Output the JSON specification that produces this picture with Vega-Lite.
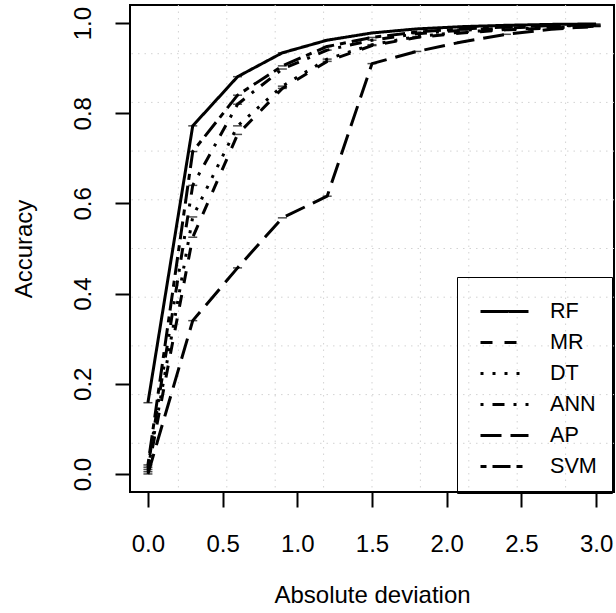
{
  "$schema": "https://vega.github.io/schema/vega-lite/v6.json",
  "width": 484,
  "height": 487,
  "autosize": {"type": "none"},
  "padding": {"left": 130, "top": 5, "right": 2, "bottom": 121},
  "background": "white",
  "config": {
    "view": {"stroke": "black", "strokeWidth": 2},
    "font": "Liberation Sans",
    "axis": {
      "domain": false,
      "grid": false,
      "ticks": true,
      "tickColor": "black",
      "tickWidth": 2,
      "tickSize": 15,
      "labelFont": "Liberation Sans",
      "labelFontSize": 24,
      "labelColor": "black",
      "titleFont": "Liberation Sans",
      "titleFontSize": 24,
      "titleFontWeight": "normal",
      "titleColor": "black"
    }
  },
  "datasets": {
    "acc": [
      {"model": "RF", "d": 0.0, "acc": 0.158}, {"model": "RF", "d": 0.3, "acc": 0.772}, {"model": "RF", "d": 0.6, "acc": 0.881}, {"model": "RF", "d": 0.9, "acc": 0.934}, {"model": "RF", "d": 1.2, "acc": 0.962}, {"model": "RF", "d": 1.5, "acc": 0.978}, {"model": "RF", "d": 1.8, "acc": 0.987}, {"model": "RF", "d": 2.1, "acc": 0.992}, {"model": "RF", "d": 2.4, "acc": 0.995}, {"model": "RF", "d": 2.7, "acc": 0.997}, {"model": "RF", "d": 3.0, "acc": 0.998},
      {"model": "MR", "d": 0.0, "acc": 0.005}, {"model": "MR", "d": 0.3, "acc": 0.525}, {"model": "MR", "d": 0.6, "acc": 0.753}, {"model": "MR", "d": 0.9, "acc": 0.855}, {"model": "MR", "d": 1.2, "acc": 0.915}, {"model": "MR", "d": 1.5, "acc": 0.95}, {"model": "MR", "d": 1.8, "acc": 0.968}, {"model": "MR", "d": 2.1, "acc": 0.978}, {"model": "MR", "d": 2.4, "acc": 0.985}, {"model": "MR", "d": 2.7, "acc": 0.989}, {"model": "MR", "d": 3.0, "acc": 0.992},
      {"model": "DT", "d": 0.0, "acc": 0.01}, {"model": "DT", "d": 0.3, "acc": 0.57}, {"model": "DT", "d": 0.6, "acc": 0.772}, {"model": "DT", "d": 0.9, "acc": 0.86}, {"model": "DT", "d": 1.2, "acc": 0.92}, {"model": "DT", "d": 1.5, "acc": 0.952}, {"model": "DT", "d": 1.8, "acc": 0.97}, {"model": "DT", "d": 2.1, "acc": 0.98}, {"model": "DT", "d": 2.4, "acc": 0.986}, {"model": "DT", "d": 2.7, "acc": 0.99}, {"model": "DT", "d": 3.0, "acc": 0.993},
      {"model": "ANN", "d": 0.0, "acc": 0.015}, {"model": "ANN", "d": 0.3, "acc": 0.64}, {"model": "ANN", "d": 0.6, "acc": 0.82}, {"model": "ANN", "d": 0.9, "acc": 0.898}, {"model": "ANN", "d": 1.2, "acc": 0.94}, {"model": "ANN", "d": 1.5, "acc": 0.962}, {"model": "ANN", "d": 1.8, "acc": 0.976}, {"model": "ANN", "d": 2.1, "acc": 0.984}, {"model": "ANN", "d": 2.4, "acc": 0.989}, {"model": "ANN", "d": 2.7, "acc": 0.993}, {"model": "ANN", "d": 3.0, "acc": 0.995},
      {"model": "AP", "d": 0.0, "acc": 0.0}, {"model": "AP", "d": 0.3, "acc": 0.34}, {"model": "AP", "d": 0.6, "acc": 0.457}, {"model": "AP", "d": 0.9, "acc": 0.568}, {"model": "AP", "d": 1.2, "acc": 0.616}, {"model": "AP", "d": 1.5, "acc": 0.91}, {"model": "AP", "d": 1.8, "acc": 0.937}, {"model": "AP", "d": 2.1, "acc": 0.958}, {"model": "AP", "d": 2.4, "acc": 0.975}, {"model": "AP", "d": 2.7, "acc": 0.986}, {"model": "AP", "d": 3.0, "acc": 0.993},
      {"model": "SVM", "d": 0.0, "acc": 0.02}, {"model": "SVM", "d": 0.3, "acc": 0.715}, {"model": "SVM", "d": 0.6, "acc": 0.84}, {"model": "SVM", "d": 0.9, "acc": 0.905}, {"model": "SVM", "d": 1.2, "acc": 0.948}, {"model": "SVM", "d": 1.5, "acc": 0.968}, {"model": "SVM", "d": 1.8, "acc": 0.98}, {"model": "SVM", "d": 2.1, "acc": 0.987}, {"model": "SVM", "d": 2.4, "acc": 0.991}, {"model": "SVM", "d": 2.7, "acc": 0.994}, {"model": "SVM", "d": 3.0, "acc": 0.996}
    ],
    "gridx": [{"g": 0.204}, {"g": 0.528}, {"g": 0.852}, {"g": 1.176}, {"g": 1.5}, {"g": 1.824}, {"g": 2.148}, {"g": 2.472}, {"g": 2.796}],
    "gridy": [{"g": 0.068}, {"g": 0.176}, {"g": 0.284}, {"g": 0.392}, {"g": 0.5}, {"g": 0.608}, {"g": 0.716}, {"g": 0.824}, {"g": 0.932}]
  },
  "layer": [
    {
      "data": {"name": "gridx"},
      "mark": {"type": "rule", "color": "#d3d3d3", "strokeWidth": 1, "strokeDash": [1.5, 5]},
      "encoding": {
        "x": {"field": "g", "type": "quantitative", "scale": {"domain": [-0.12, 3.12], "nice": false, "zero": false},
          "axis": {"values": [0, 0.5, 1, 1.5, 2, 2.5, 3], "format": ".1f", "title": "Absolute deviation", "labelPadding": 25, "titlePadding": 27}}
      }
    },
    {
      "data": {"name": "gridy"},
      "mark": {"type": "rule", "color": "#d3d3d3", "strokeWidth": 1, "strokeDash": [1.5, 5]},
      "encoding": {
        "y": {"field": "g", "type": "quantitative", "scale": {"domain": [-0.04, 1.04], "nice": false, "zero": false},
          "axis": {"values": [0, 0.2, 0.4, 0.6, 0.8, 1.0], "format": ".1f", "title": "Accuracy", "labelAngle": 270, "labelAlign": "center", "labelBaseline": "bottom", "labelPadding": 20, "titlePadding": 35}}
      }
    },
    {
      "data": {"name": "acc"},
      "mark": {"type": "line", "color": "black", "strokeWidth": 3, "strokeCap": "butt", "strokeJoin": "round"},
      "encoding": {
        "x": {"field": "d", "type": "quantitative"},
        "y": {"field": "acc", "type": "quantitative"},
        "strokeDash": {"field": "model", "type": "nominal",
          "scale": {"domain": ["RF", "MR", "DT", "ANN", "AP", "SVM"], "range": [[1, 0], [12, 12], [3, 9], [3, 9, 12, 9], [21, 9], [6, 6, 18, 6]]},
          "legend": {"orient": "none", "legendX": 327, "legendY": 272, "title": null, "symbolType": "M-1.333,0H1.333", "symbolSize": 1296, "symbolStrokeWidth": 3, "symbolStrokeColor": "black", "symbolFillColor": "transparent", "symbolOffset": 13, "labelFont": "Liberation Sans", "labelFontSize": 21.6, "labelColor": "black", "labelOffset": 26, "padding": 15, "strokeColor": "black", "rowPadding": 0}
        }
      }
    },
    {
      "data": {"name": "acc"},
      "mark": {"type": "tick", "orient": "horizontal", "color": "black", "size": 9, "thickness": 1.5},
      "encoding": {
        "x": {"field": "d", "type": "quantitative"},
        "y": {"field": "acc", "type": "quantitative"}
      }
    }
  ]
}
